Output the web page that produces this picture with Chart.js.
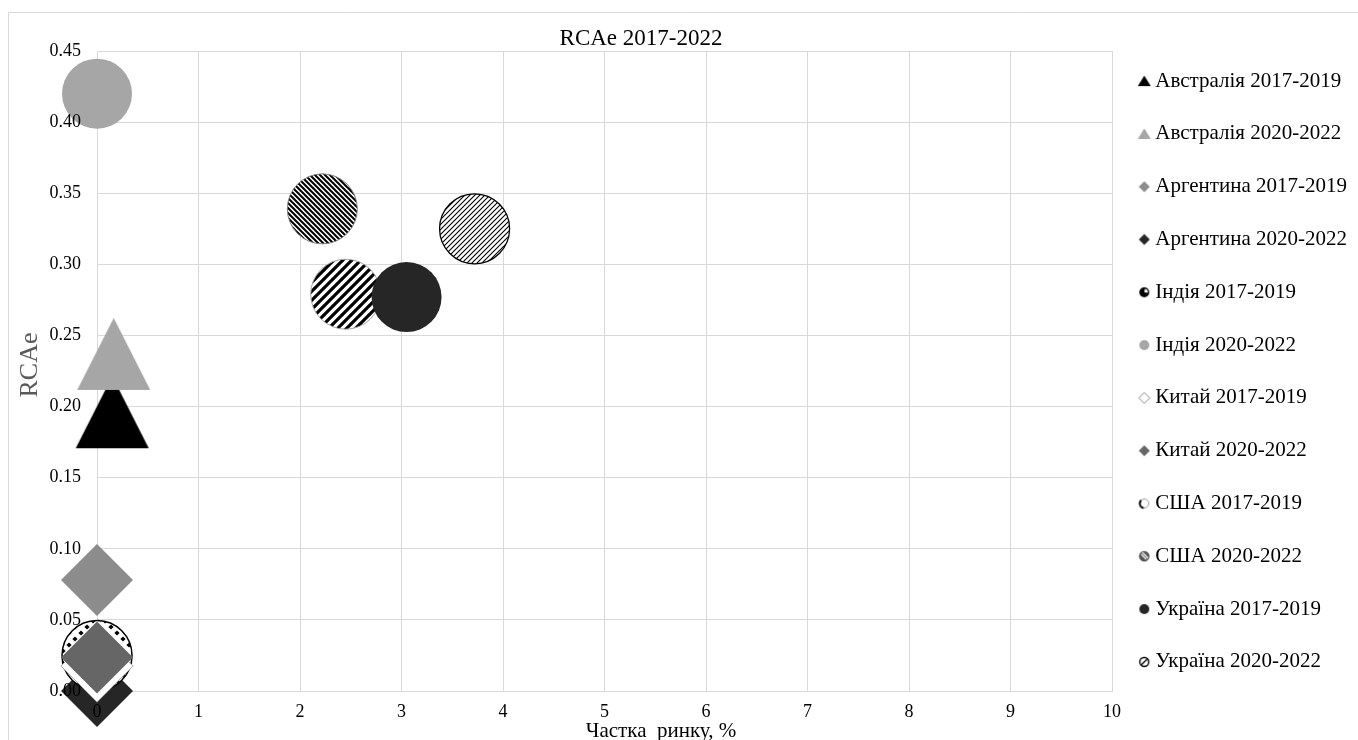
<!DOCTYPE html>
<html lang="uk">
<head>
<meta charset="utf-8">
<title>RCAe 2017-2022</title>
<script src="https://cdn.jsdelivr.net/npm/chart.js@4.4.1/dist/chart.umd.min.js"></script>
<style>
  html, body { margin: 0; padding: 0; background: #fff; overflow: hidden; }
  #wrap { position: relative; width: 1358px; height: 740px; overflow: hidden; }
  canvas { display: block; }
</style>
</head>
<body>
<div id="wrap"><canvas id="chart" width="1358" height="743"></canvas></div>
<script>
// ---- data ----
const chartTitle = 'RCAe 2017-2022';
const xAxisTitle = 'Частка  ринку, %';
const yAxisTitle = 'RCAe';

const seriesLabels = [
  'Австралія 2017-2019', 'Австралія 2020-2022',
  'Аргентина 2017-2019', 'Аргентина 2020-2022',
  'Індія 2017-2019', 'Індія 2020-2022',
  'Китай 2017-2019', 'Китай 2020-2022',
  'США 2017-2019', 'США 2020-2022',
  'Україна 2017-2019', 'Україна 2020-2022'
];
const marketShare = [0.15, 0.165, 0, 0, 0, 0, 0, 0, 2.45, 2.22, 3.05, 3.72];
const rcaeValues  = [0.196, 0.237, 0.078, 0.0, 0.025, 0.42, 0.0175, 0.0235, 0.279, 0.339, 0.277, 0.325];
const xTickValues = [0, 1, 2, 3, 4, 5, 6, 7, 8, 9, 10];
const yTickValues = [0, 0.05, 0.10, 0.15, 0.20, 0.25, 0.30, 0.35, 0.40, 0.45];

// ---- fills and marker images ----
const canvas = document.getElementById('chart');
const ctx = canvas.getContext('2d');
const SERIF = '"Liberation Serif", "Times New Roman", serif';

function tile(size, paint) {
  const c = document.createElement('canvas');
  c.width = c.height = size;
  const g = c.getContext('2d');
  g.fillStyle = '#fff';
  g.fillRect(0, 0, size, size);
  paint(g, size);
  return ctx.createPattern(c, 'repeat');
}

function stripes(size, width, dir) {
  return tile(size, (g, s) => {
    g.strokeStyle = '#000';
    g.lineWidth = width;
    g.beginPath();
    for (let k = -1; k <= 1; k++) {
      if (dir === 'up') { g.moveTo(k * s - 1, s + 1); g.lineTo(k * s + s + 1, -1); }
      else { g.moveTo(k * s - 1, -1); g.lineTo(k * s + s + 1, s + 1); }
    }
    g.stroke();
  });
}

// sparse diamond dots
const dotFill = tile(12, g => {
  g.fillStyle = '#000';
  [[3, 3], [9, 9]].forEach(([cx, cy]) => {
    g.beginPath();
    g.moveTo(cx, cy - 2.6); g.lineTo(cx + 2.6, cy); g.lineTo(cx, cy + 2.6); g.lineTo(cx - 2.6, cy);
    g.closePath(); g.fill();
  });
});
const wideUp = stripes(9, 3.2, 'up');
const denseDown = stripes(5, 2, 'down');
const thinUp = stripes(5, 1.1, 'up');

function triangleImage(w, h, fill) {
  const c = document.createElement('canvas');
  c.width = w + 2; c.height = h + 2;
  const g = c.getContext('2d');
  g.fillStyle = fill;
  g.beginPath();
  g.moveTo(1 + w / 2, 1);
  g.lineTo(1 + w, 1 + h);
  g.lineTo(1, 1 + h);
  g.closePath();
  g.fill();
  return c;
}

const dark = '#262626';
const seriesStyles = [
  { pointStyle: triangleImage(73, 72, '#000000'), radius: 36, fill: '#000000' },
  { pointStyle: triangleImage(73, 72, '#a6a6a6'), radius: 36, fill: '#a6a6a6' },
  { pointStyle: 'rectRot', radius: 36, fill: '#8c8c8c' },
  { pointStyle: 'rectRot', radius: 36, fill: dark },
  { pointStyle: 'circle', radius: 35, fill: dotFill, border: '#000', bw: 1.5 },
  { pointStyle: 'circle', radius: 35, fill: '#a6a6a6' },
  { pointStyle: 'rectRot', radius: 36, fill: '#ffffff', border: '#a6a6a6', bw: 1 },
  { pointStyle: 'rectRot', radius: 36, fill: '#666666' },
  { pointStyle: 'circle', radius: 35, fill: wideUp, border: '#a6a6a6', bw: 1 },
  { pointStyle: 'circle', radius: 35, fill: denseDown, border: '#7f7f7f', bw: 1 },
  { pointStyle: 'circle', radius: 35, fill: dark },
  { pointStyle: 'circle', radius: 35, fill: thinUp, border: '#000', bw: 1.3 }
];

// small legend icons
function icon(draw) {
  const c = document.createElement('canvas');
  c.width = c.height = 16;
  const g = c.getContext('2d');
  draw(g);
  return c;
}
function iconTri(fill) {
  return icon(g => { g.fillStyle = fill; g.beginPath(); g.moveTo(8, 2.5); g.lineTo(14.5, 13); g.lineTo(1.5, 13); g.closePath(); g.fill(); });
}
function iconDiamond(fill, stroke) {
  return icon(g => {
    g.beginPath(); g.moveTo(8, 2.5); g.lineTo(13.5, 8); g.lineTo(8, 13.5); g.lineTo(2.5, 8); g.closePath();
    g.fillStyle = fill; g.fill();
    if (stroke) { g.strokeStyle = stroke; g.lineWidth = 1; g.stroke(); }
  });
}
function iconCircle(fill, stroke, lw) {
  return icon(g => {
    g.beginPath(); g.arc(8, 8, 5, 0, Math.PI * 2);
    g.fillStyle = fill; g.fill();
    if (stroke) { g.strokeStyle = stroke; g.lineWidth = lw || 1; g.stroke(); }
  });
}
const legendIcons = [
  iconTri('#000000'),
  iconTri('#a6a6a6'),
  iconDiamond('#8c8c8c'),
  iconDiamond(dark),
  icon(g => {
    g.beginPath(); g.arc(8, 8, 5, 0, Math.PI * 2); g.fillStyle = '#000'; g.fill();
    g.beginPath(); g.moveTo(8, 8); g.arc(8, 8, 3.6, -Math.PI * 0.45, Math.PI * 0.05); g.closePath();
    g.fillStyle = '#fff'; g.fill();
  }),
  iconCircle('#a6a6a6'),
  iconDiamond('#ffffff', '#8c8c8c'),
  iconDiamond('#666666'),
  icon(g => {
    g.beginPath(); g.arc(8, 8, 4.5, 0, Math.PI * 2); g.fillStyle = '#fff'; g.fill();
    g.strokeStyle = '#999'; g.lineWidth = 1; g.stroke();
    g.beginPath(); g.arc(8, 8, 4.5, Math.PI * 0.55, Math.PI * 1.25); g.strokeStyle = '#000'; g.lineWidth = 2; g.stroke();
  }),
  icon(g => {
    g.beginPath(); g.arc(8, 8, 4.8, 0, Math.PI * 2); g.fillStyle = '#555'; g.fill();
    g.strokeStyle = '#fff'; g.lineWidth = 1.2;
    g.beginPath(); g.moveTo(5, 6); g.lineTo(10, 11); g.moveTo(6, 4); g.lineTo(12, 10); g.stroke();
    g.beginPath(); g.arc(8, 8, 4.8, 0, Math.PI * 2); g.strokeStyle = '#444'; g.lineWidth = 1; g.stroke();
  }),
  iconCircle(dark),
  icon(g => {
    g.beginPath(); g.arc(8, 8, 4.5, 0, Math.PI * 2); g.fillStyle = '#fff'; g.fill();
    g.strokeStyle = '#000'; g.lineWidth = 1.4; g.stroke();
    g.beginPath(); g.moveTo(5.2, 10.8); g.lineTo(10.8, 5.2); g.lineWidth = 1.3; g.stroke();
  })
];

// ---- datasets ----
const datasets = seriesLabels.map((label, i) => {
  const st = seriesStyles[i];
  return {
    label,
    data: [{ x: marketShare[i], y: rcaeValues[i] }],
    pointStyle: st.pointStyle,
    pointRadius: st.radius,
    pointHoverRadius: st.radius,
    backgroundColor: st.fill,
    borderColor: st.border || st.fill,
    borderWidth: st.bw || 0,
    clip: false,
    order: seriesLabels.length - i   // later series are painted on top
  };
});

// ---- plugins ----
const framePlugin = {
  id: 'frame',
  beforeDraw(chart) {
    const g = chart.ctx;
    g.save();
    g.fillStyle = '#fff';
    g.fillRect(0, 0, chart.width, chart.height);
    g.strokeStyle = '#d9d9d9';
    g.lineWidth = 1;
    g.beginPath();
    g.moveTo(8.5, chart.height);
    g.lineTo(8.5, 12.5);
    g.lineTo(chart.width, 12.5);
    g.stroke();
    g.restore();
  },
  afterDraw(chart) {
    const g = chart.ctx;
    g.save();
    g.textAlign = 'center';
    g.textBaseline = 'middle';
    g.fillStyle = '#000';
    g.font = '23px ' + SERIF;
    g.fillText(chartTitle, 641, 39);
    g.font = '21px ' + SERIF;
    g.fillText(xAxisTitle, 661, 731);
    g.translate(30, 365);
    g.rotate(-Math.PI / 2);
    g.fillStyle = '#595959';
    g.font = '26px ' + SERIF;
    g.fillText(yAxisTitle, 0, 0);
    g.restore();
  }
};

const legendWidthPlugin = {
  id: 'legendWidth',
  beforeInit(chart) {
    const legend = chart.legend;
    const fit = legend.fit;
    legend.fit = function () {
      fit.call(this);
      this.width = 246;
    };
  }
};

const gridColor = '#d9d9d9';
const tickFont = { family: SERIF, size: 18 };

new Chart(ctx, {
  type: 'scatter',
  data: { datasets },
  options: {
    responsive: false,
    animation: false,
    events: [],
    layout: { padding: 0 },
    plugins: {
      title: { display: false },
      tooltip: { enabled: false },
      legend: {
        position: 'right',
        align: 'center',
        labels: {
          usePointStyle: true,
          boxWidth: 1,
          boxHeight: 10,
          padding: 31.8,
          color: '#000',
          font: { family: SERIF, size: 21 },
          generateLabels: (chart) => chart.data.datasets.map((ds, i) => ({
            text: ds.label,
            datasetIndex: i,
            pointStyle: legendIcons[i],
            fillStyle: 'rgba(0,0,0,0)',
            strokeStyle: 'rgba(0,0,0,0)',
            lineWidth: 0,
            hidden: false,
            fontColor: '#000'
          }))
        }
      }
    },
    scales: {
      x: {
        type: 'linear',
        min: 0,
        max: 10,
        afterBuildTicks: s => { s.ticks = xTickValues.map(v => ({ value: v })); },
        afterFit: s => { s.height = 52; },
        grid: { color: gridColor, lineWidth: 1, drawTicks: false },
        border: { color: gridColor, width: 1 },
        ticks: { font: tickFont, color: '#000', padding: 10, z: 1, callback: v => String(v) }
      },
      y: {
        type: 'linear',
        min: 0,
        max: 0.45,
        afterBuildTicks: s => { s.ticks = yTickValues.map(v => ({ value: v })); },
        afterFit: s => { s.width = 97; s.paddingTop = 51; },
        grid: { color: gridColor, lineWidth: 1, drawTicks: false },
        border: { color: gridColor, width: 1 },
        ticks: { font: tickFont, color: '#000', padding: 16, z: 1, callback: v => Number(v).toFixed(2) }
      }
    }
  },
  plugins: [framePlugin, legendWidthPlugin]
});
</script>
</body>
</html>
